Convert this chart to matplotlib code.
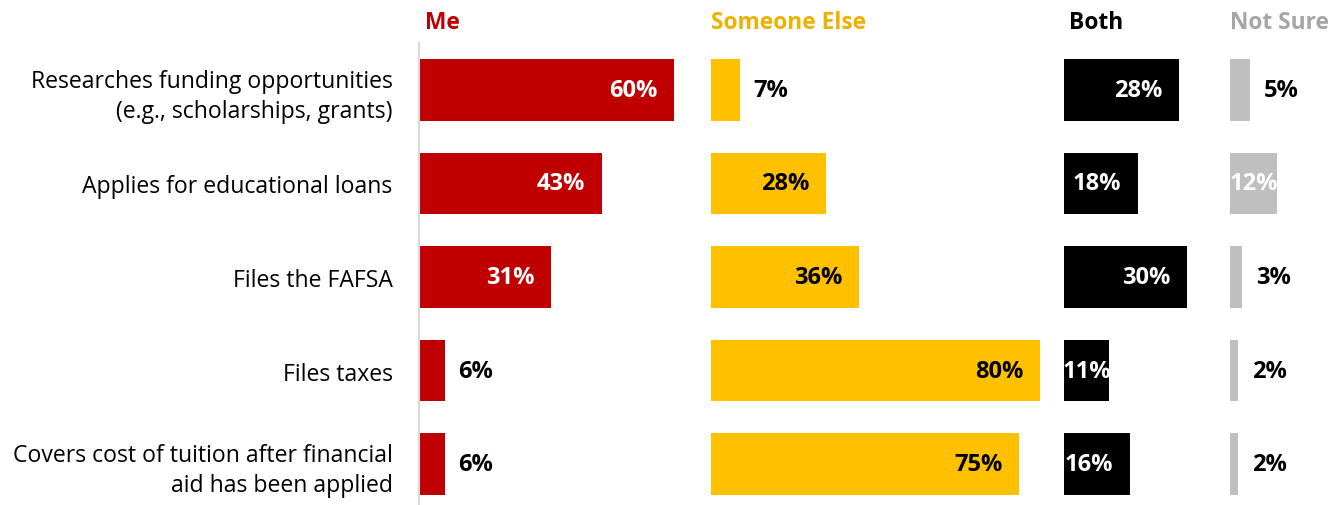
import matplotlib.pyplot as plt
from matplotlib.transforms import offset_copy

plt.rcParams['font.family'] = ['Open Sans', 'DejaVu Sans']

categories = [
    "Researches funding opportunities\n(e.g., scholarships, grants)",
    "Applies for educational loans",
    "Files the FAFSA",
    "Files taxes",
    "Covers cost of tuition after financial\naid has been applied",
]
groups = ["Me", "Someone Else", "Both", "Not Sure"]
me = [60, 43, 31, 6, 6]
someone_else = [7, 28, 36, 80, 75]
both = [28, 18, 30, 11, 16]
not_sure = [5, 12, 3, 2, 2]

values = [me, someone_else, both, not_sure]
bar_colors = ["#C00000", "#FFC000", "#000000", "#BFBFBF"]
head_colors = ["#C00000", "#EDB100", "#000000", "#A6A6A6"]
inside_text = ["white", "black", "white", "white"]

W, H = 1340, 506
fig = plt.figure(figsize=(W / 100, H / 100), dpi=100)

# panel left edge (px), pixels per percent, panel width (px)
panels = [(419, 4.25, 280), (711, 4.11, 340), (1064, 4.1, 150), (1230, 3.95, 100)]
row_px = 93.6
top_px = 44
ax_h = row_px * len(categories)
lab_size = 17

for k, (left, scale, width) in enumerate(panels):
    ax = fig.add_axes([left / W, (H - top_px - ax_h) / H, width / W, ax_h / H])
    ax.barh(range(len(categories)), values[k], height=0.66, color=bar_colors[k])
    ax.set_xlim(0, width / scale)
    ax.set_ylim(len(categories) - 0.5, -0.5)
    for s in ax.spines.values():
        s.set_visible(False)
    ax.set_xticks([])
    if k == 0:
        ax.spines['left'].set_visible(True)
        ax.spines['left'].set_color('#D9D9D9')
        ax.spines['left'].set_linewidth(1.5)
        ax.set_yticks(range(len(categories)))
        ax.set_yticklabels(categories, fontsize=16.6, linespacing=1.35)
        ax.tick_params(axis='y', length=0, pad=19)
    else:
        ax.set_yticks([])

    for i, v in enumerate(values[k]):
        bar_px = v * scale
        if v >= 10 and bar_px < 55:
            ax.text(v / 2, i, f"{v}%", ha='center', va='center', fontsize=lab_size,
                    fontweight='bold', color=inside_text[k])
        elif v >= 10:
            tr = offset_copy(ax.transData, fig=fig, x=-12, y=0, units='points')
            ax.text(v, i, f"{v}%", ha='right', va='center', fontsize=lab_size,
                    fontweight='bold', color=inside_text[k], transform=tr)
        else:
            tr = offset_copy(ax.transData, fig=fig, x=10, y=0, units='points')
            ax.text(v, i, f"{v}%", ha='left', va='center', fontsize=lab_size,
                    fontweight='bold', color='black', transform=tr)

# column headers above each panel
head_x = [425, 711, 1069, 1230]
for k, name in enumerate(groups):
    fig.text(head_x[k] / W, 1 - 23 / H, name, ha='left', va='center',
             fontsize=16.4, fontweight='bold', color=head_colors[k])

fig.savefig("out.png", dpi=100)
